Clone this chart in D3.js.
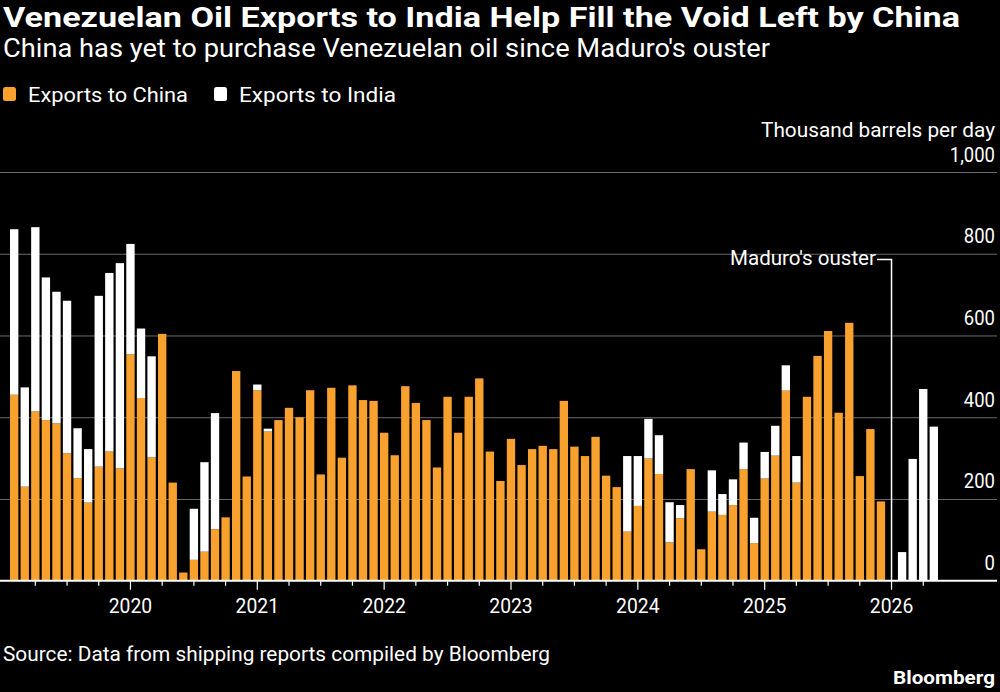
<!DOCTYPE html>
<html>
<head>
<meta charset="utf-8">
<script src="https://cdn.jsdelivr.net/npm/d3@7"></script>
<style>
html,body{margin:0;padding:0;background:#000;}
svg{display:block;}
text{font-family:Roboto,"Noto Sans",sans-serif;fill:#fff;}
</style>
</head>
<body>
<script>
// ---- data ----
const months = [
"2019-02","2019-03","2019-04","2019-05","2019-06","2019-07","2019-08","2019-09","2019-10","2019-11","2019-12",
"2020-01","2020-02","2020-03","2020-04","2020-05","2020-06","2020-07","2020-08","2020-09","2020-10","2020-11","2020-12",
"2021-01","2021-02","2021-03","2021-04","2021-05","2021-06","2021-07","2021-08","2021-09","2021-10","2021-11","2021-12",
"2022-01","2022-02","2022-03","2022-04","2022-05","2022-06","2022-07","2022-08","2022-09","2022-10","2022-11","2022-12",
"2023-01","2023-02","2023-03","2023-04","2023-05","2023-06","2023-07","2023-08","2023-09","2023-10","2023-11","2023-12",
"2024-01","2024-02","2024-03","2024-04","2024-05","2024-06","2024-07","2024-08","2024-09","2024-10","2024-11","2024-12",
"2025-01","2025-02","2025-03","2025-04","2025-05","2025-06","2025-07","2025-08","2025-09","2025-10","2025-11","2025-12",
"2026-01","2026-02","2026-03","2026-04","2026-05"
];
const exportsChina = [
455,230,414,393,385,312,251,191,279,316,275,
554,447,302,604,240,20,51,71,126,155,513,255,
466,365,393,423,400,466,260,472,301,478,442,440,
362,307,476,435,393,277,450,362,450,495,316,244,
347,283,322,330,322,440,328,305,352,257,229,120,
183,299,261,94,153,273,77,169,161,185,273,92,
250,306,465,240,450,550,611,411,631,256,371,194,
0,0,0,0,0
];
const exportsIndia = [
405,243,451,349,322,373,122,131,418,437,502,
270,170,247,0,0,0,125,219,284,0,0,0,
14,7,0,0,0,0,0,0,0,0,0,0,
0,0,0,0,0,0,0,0,0,0,0,0,
0,0,0,0,0,0,0,0,0,0,0,185,
122,97,95,98,32,0,0,101,51,63,65,62,
65,73,62,65,0,0,0,0,0,0,0,0,
0,70,298,469,377
];
const yTicks = [0,200,400,600,800,1000];
const seriesKeys = ["china","india"];
const seriesLabels = ["Exports to China","Exports to India"];
const seriesColors = ["#f9a12e","#ffffff"];
const eventMonth = "2026-01";
const eventLabel = "Maduro's ouster";

// ---- layout ----
const W = 1000, H = 692;
const svg = d3.select("body").append("svg").attr("width", W).attr("height", H);
svg.append("rect").attr("width", W).attr("height", H).attr("fill", "#000");

const rows = months.map((m,i)=>({month:m, china:exportsChina[i], india:exportsIndia[i]}));

const x = d3.scaleBand().domain(months).range([8.9, 939.1]).paddingInner(0.21).paddingOuter(0.105);
const y = d3.scaleLinear().domain([0,1000]).range([580.7, 172]);
const color = d3.scaleOrdinal().domain(seriesKeys).range(seriesColors);

function condense(sel, f){
  sel.each(function(){ const w=this.getComputedTextLength(); d3.select(this).attr("textLength", w*f).attr("lengthAdjust","spacingAndGlyphs"); });
}

// gridlines + y labels
const yAxis = svg.append("g").attr("transform","translate(997,0)")
  .call(d3.axisLeft(y).tickValues(yTicks).tickSize(997).tickFormat(d3.format(",")));
yAxis.select(".domain").remove();
yAxis.selectAll(".tick line").attr("stroke", d=> d===0 ? "none" : "#6a6a6a").attr("stroke-width",1);
yAxis.selectAll(".tick text").attr("x",-2).attr("dy",null).attr("y",-11)
  .attr("text-anchor","end").attr("fill","#fff").style("font-size","21px").style("font-family","Roboto");
condense(yAxis.selectAll(".tick text"), 0.88);

// bars
const stacked = d3.stack().keys(seriesKeys)(rows);
svg.append("g").selectAll("g").data(stacked).join("g")
  .attr("fill", d=>color(d.key))
  .selectAll("rect").data(d=>d).join("rect")
  .attr("x", d=>x(d.data.month))
  .attr("width", x.bandwidth())
  .attr("y", d=>y(d[1]))
  .attr("height", d=>Math.max(0, y(d[0]) - y(d[1])));

// x axis
const tickMonths = months.filter(m=>["01","04","07","10"].includes(m.slice(5)));
const xAxis = svg.append("g").attr("transform",`translate(0,${y(0)})`)
  .call(d3.axisBottom(x).tickValues(tickMonths).tickSize(5).tickPadding(0)
    .tickFormat(m=> m.slice(5)==="01" ? m.slice(0,4) : ""));
xAxis.select(".domain").remove();
xAxis.selectAll(".tick line").attr("stroke","#fff").attr("stroke-width",1.2)
  .attr("y2", m=> m.slice(5)==="01" ? 9 : 5);
xAxis.selectAll(".tick text").attr("y",32).attr("dy",null).attr("fill","#fff")
  .style("font-size","21px").style("font-family","Roboto");
condense(xAxis.selectAll(".tick text").filter(function(){return this.textContent!=="";}), 0.92);
svg.append("line").attr("x1",0).attr("x2",997).attr("y1",y(0)).attr("y2",y(0))
  .attr("stroke","#fff").attr("stroke-width",2);

// event annotation
const ex = x(eventMonth) + x.bandwidth()/2;
svg.append("path").attr("d",`M877,259.5H${ex}V${y(0)}`).attr("fill","none")
  .attr("stroke","#fff").attr("stroke-width",1.5);
svg.append("text").attr("x",876).attr("y",265).attr("text-anchor","end")
  .style("font-size","21px").text(eventLabel)
  .attr("textLength",146).attr("lengthAdjust","spacingAndGlyphs");

// titles
svg.append("text").attr("x",3).attr("y",27).style("font-size","27px").style("font-weight","bold")
  .text("Venezuelan Oil Exports to India Help Fill the Void Left by China")
  .attr("textLength",957).attr("lengthAdjust","spacingAndGlyphs");
svg.append("text").attr("x",3).attr("y",57).style("font-size","25px")
  .text("China has yet to purchase Venezuelan oil since Maduro's ouster")
  .attr("textLength",767).attr("lengthAdjust","spacingAndGlyphs");

// legend
const legendX = [3, 214], legendTextW = [160, 157];
const lg = svg.append("g").selectAll("g").data(seriesKeys).join("g");
lg.append("rect").attr("x",(d,i)=>legendX[i]).attr("y",87).attr("width",13).attr("height",14).attr("rx",2.5)
  .attr("fill",d=>color(d));
lg.append("text").attr("x",(d,i)=>legendX[i]+25).attr("y",102).style("font-size","21px")
  .text((d,i)=>seriesLabels[i]).attr("textLength",(d,i)=>legendTextW[i]).attr("lengthAdjust","spacingAndGlyphs");

// unit label
svg.append("text").attr("x",995).attr("y",137).attr("text-anchor","end").style("font-size","21px")
  .text("Thousand barrels per day").attr("textLength",234).attr("lengthAdjust","spacingAndGlyphs");

// source + brand
svg.append("text").attr("x",3).attr("y",661).style("font-size","21px")
  .text("Source: Data from shipping reports compiled by Bloomberg")
  .attr("textLength",547).attr("lengthAdjust","spacingAndGlyphs");
svg.append("text").attr("x",995).attr("y",684).attr("text-anchor","end").style("font-size","19px").style("font-weight","bold")
  .text("Bloomberg").attr("textLength",102).attr("lengthAdjust","spacingAndGlyphs");
</script>
</body>
</html>
